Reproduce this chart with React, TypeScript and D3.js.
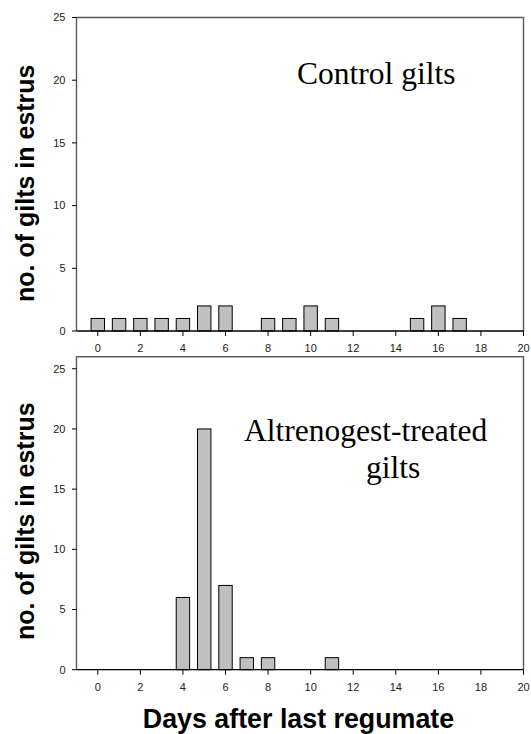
import * as d3 from 'd3';
import React from 'react';

const days = d3.range(0, 21);
const controlCounts = [1, 1, 1, 1, 1, 2, 2, 0, 1, 1, 2, 1, 0, 0, 0, 1, 2, 1, 0, 0, 0];
const treatedCounts = [0, 0, 0, 0, 6, 20, 7, 1, 1, 0, 0, 1, 0, 0, 0, 0, 0, 0, 0, 0, 0];
const xTicks = [0, 2, 4, 6, 8, 10, 12, 14, 16, 18, 20];
const yTicks = [0, 5, 10, 15, 20, 25];

const W = 531;
const H = 734;
const left = 76.5;
const right = 523.5;
const sans = 'Liberation Sans, Arial, sans-serif';
const serif = 'Liberation Serif, Times New Roman, serif';

const x = d3.scaleLinear().domain([-1, 20]).range([left, right]);
const barW = (x(1) - x(0)) * 0.63;

type Label = { text: string; x: number; y: number };

type PanelProps = {
  counts: number[];
  yMax: number;
  bottom: number;
  top: number;
  labels: Label[];
};

const Panel = ({ counts, yMax, bottom, top, labels }: PanelProps) => {
  const y = d3.scaleLinear().domain([0, yMax]).range([bottom, top]);
  const frame = '#5a5a5a';
  return (
    <g>
      {/* frame: left, top, right */}
      <path
        d={`M${left},${bottom}V${top}H${right}V${bottom}`}
        fill="none"
        stroke={frame}
        strokeWidth={1.4}
      />
      {/* bars */}
      {days.map((d, i) =>
        counts[i] > 0 ? (
          <rect
            key={d}
            x={x(d) - barW / 2}
            y={y(counts[i])}
            width={barW}
            height={bottom - y(counts[i])}
            fill="#c0c0c0"
            stroke="#000"
            strokeWidth={1}
          />
        ) : null
      )}
      {/* x axis */}
      <line x1={left} x2={right} y1={bottom} y2={bottom} stroke="#000" strokeWidth={1.3} />
      {xTicks.map((t) => (
        <g key={t}>
          <line x1={x(t)} x2={x(t)} y1={bottom} y2={bottom + 5} stroke="#000" strokeWidth={1} />
          <text
            x={x(t)}
            y={bottom + 21}
            textAnchor="middle"
            fontFamily={sans}
            fontSize={11}
            fill="#222"
          >
            {t}
          </text>
        </g>
      ))}
      {/* y axis ticks */}
      {yTicks.map((t) => (
        <g key={t}>
          <line x1={left - 4.5} x2={left} y1={y(t)} y2={y(t)} stroke="#000" strokeWidth={1} />
          <text
            x={left - 11}
            y={y(t) + 3.8}
            textAnchor="end"
            fontFamily={sans}
            fontSize={11}
            fill="#222"
          >
            {t}
          </text>
        </g>
      ))}
      {/* y title */}
      <text
        transform={`translate(34,${(top + bottom) / 2 + (yMax === 25 ? 9 : 8)}) rotate(-90)`}
        textAnchor="middle"
        fontFamily={sans}
        fontWeight="bold"
        fontSize={25}
        fill="#000"
      >
        no. of gilts in estrus
      </text>
      {/* panel label */}
      {labels.map((l) => (
        <text key={l.text} x={l.x} y={l.y} fontFamily={serif} fontSize={31.5} fill="#000">
          {l.text}
        </text>
      ))}
    </g>
  );
};

export default function App() {
  return (
    <svg
      width={W}
      height={H}
      viewBox={`0 0 ${W} ${H}`}
      style={{ position: 'absolute', left: 0, top: 0, background: '#fff' }}
    >
      <rect width={W} height={H} fill="#fff" />
      <Panel
        counts={controlCounts}
        yMax={25}
        bottom={331}
        top={17.5}
        labels={[{ text: 'Control gilts', x: 297, y: 84 }]}
      />
      <Panel
        counts={treatedCounts}
        yMax={26}
        bottom={669.7}
        top={356.7}
        labels={[
          { text: 'Altrenogest-treated', x: 244, y: 441 },
          { text: 'gilts', x: 366, y: 478 },
        ]}
      />
      <text
        x={298.5}
        y={728}
        textAnchor="middle"
        fontFamily={sans}
        fontWeight="bold"
        fontSize={26.8}
        fill="#000"
      >
        Days after last regumate
      </text>
    </svg>
  );
}
